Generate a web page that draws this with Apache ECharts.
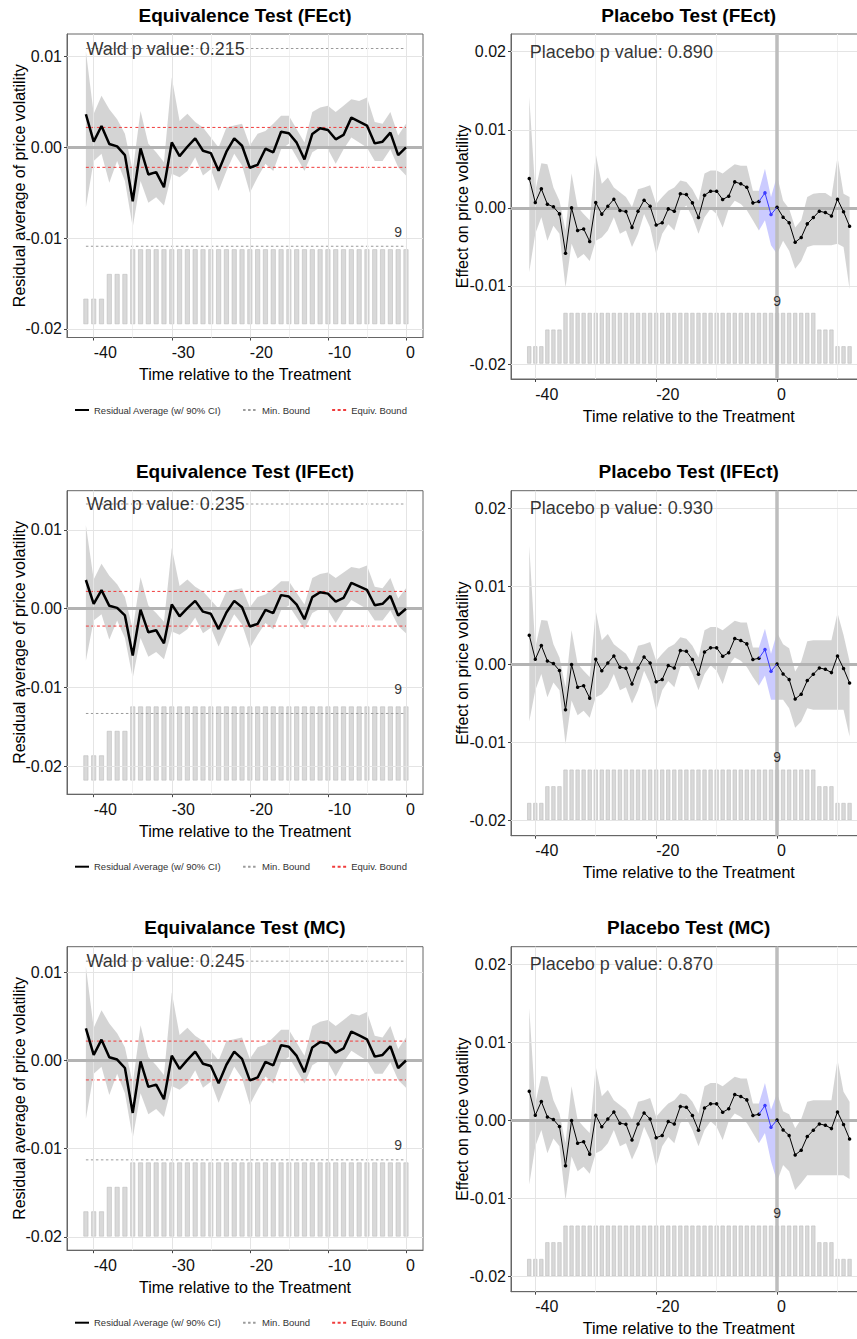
<!DOCTYPE html>
<html lang="en">
<head>
    <meta charset="UTF-8">
    <meta name="viewport" content="width=device-width, initial-scale=1.0">
    <title>Equivalence and Placebo Tests</title>
    <script src="https://cdn.jsdelivr.net/npm/echarts@6/dist/echarts.min.js"></script>
    <style>
        body { margin: 0; background: #fff; }
        #chart { width: 857px; height: 1339px; }
    </style>
</head>
<body>
    <div id="chart"></div>

    <script>
        // ---- values ----
        const models = ['FEct', 'IFEct', 'MC'];
        const eqTitles = ['Equivalence Test (FEct)', 'Equivalence Test (IFEct)', 'Equivalance Test (MC)'];
        const plTitles = ['Placebo Test (FEct)', 'Placebo Test (IFEct)', 'Placebo Test (MC)'];
        const waldP = ['0.215', '0.235', '0.245'];
        const placeboP = ['0.890', '0.930', '0.870'];
        const minBound = [0.0109, 0.0133, 0.01126];
        const equivBound = [0.0022, 0.0022, 0.0022];

        const eqTime = [-41, -40, -39, -38, -37, -36, -35, -34, -33, -32, -31, -30, -29, -28, -27, -26, -25, -24, -23, -22, -21,
            -20, -19, -18, -17, -16, -15, -14, -13, -12, -11, -10, -9, -8, -7, -6, -5, -4, -3, -2, -1, 0];
        const eqEffect = [0.00365, 0.00063, 0.00236, 0.00037, 0.00011, -0.00085, -0.00594, -0.00011, -0.00299, -0.00273, -0.00439,
            0.00055, -0.00096, 0.00007, 0.00100, -0.00037, -0.00063, -0.00258, -0.00048, 0.00100, 0.00018,
            -0.00225, -0.00192, -0.00015, -0.00055, 0.00173, 0.00155, 0.00052, -0.00133, 0.00148, 0.00210,
            0.00192, 0.00089, 0.00137, 0.00328, 0.00284, 0.00240, 0.00044, 0.00063, 0.00162, -0.00085, 0.00000];
        const eqUpper = [0.0106, 0.0037, 0.0057, 0.0042, 0.0031, 0.0015, -0.0026, 0.0040, 0.0004, -0.00055, -0.00165,
            0.0077, 0.0029, 0.0037, 0.0028, 0.0022, 0.0011, 0.0000, 0.0022, 0.0024, 0.0026,
            0.0002, 0.0015, 0.0018, 0.0026, 0.0035, 0.0035, 0.0020, 0.00055, 0.0039, 0.0044,
            0.0046, 0.0039, 0.0046, 0.0053, 0.0051, 0.0055, 0.0028, 0.0026, 0.0039, 0.0013, 0.0026];
        const eqLower = [-0.0066, -0.0015, -0.0007, -0.0039, -0.0015, -0.0037, -0.0088, -0.0037, -0.0061, -0.0055, -0.0064,
            -0.0029, -0.0033, -0.0026, -0.0011, -0.0031, -0.0024, -0.0048, -0.0026, -0.0007, -0.0020,
            -0.0050, -0.0033, -0.0018, -0.0026, -0.0002, 0.0004, -0.0011, -0.0026, -0.00055, 0.0000,
            -0.0002, -0.0018, -0.0002, 0.0011, 0.00055, 0.0000, -0.0015, -0.0015, -0.0002, -0.0022, -0.0031];
        const eqCounts = [3, 3, 3, 6, 6, 6, 9, 9, 9, 9, 9, 9, 9, 9, 9, 9, 9, 9, 9, 9, 9,
            9, 9, 9, 9, 9, 9, 9, 9, 9, 9, 9, 9, 9, 9, 9, 9, 9, 9, 9, 9, 9];

        const plTime = [-41, -40, -39, -38, -37, -36, -35, -34, -33, -32, -31, -30, -29, -28, -27, -26, -25, -24, -23, -22, -21,
            -20, -19, -18, -17, -16, -15, -14, -13, -12, -11, -10, -9, -8, -7, -6, -5, -4, -3, -2, -1,
            0, 1, 2, 3, 4, 5, 6, 7, 8, 9, 10, 11, 12];
        const plEffect = [0.00376, 0.00068, 0.00244, 0.00047, 0.00013, -0.00077, -0.0058, 0.0000, -0.0029, -0.0027, -0.0043,
            0.00068, -0.0008, 0.0002, 0.0011, -0.00034, -0.00047, -0.0025, -0.00043, 0.00098, 0.0002,
            -0.0022, -0.0019, -0.00013, -0.00043, 0.0018, 0.0017, 0.00064, -0.00124, 0.00162, 0.00214,
            0.00214, 0.00107, 0.0015, 0.00333, 0.00308, 0.00265, 0.00064, 0.00081, 0.00192, -0.00085,
            0.00008, -0.0012, -0.0019, -0.0044, -0.0038, -0.00205, -0.00124, -0.00043, -0.0006, -0.00103, 0.0011, -0.0005, -0.00235];

        const plUpperFEct = [0.0142, 0.0022, 0.0057, 0.0056, 0.0026, 0.0009, -0.0029, 0.0044, 0.0001, -0.0008, -0.0016,
            0.0069, 0.0031, 0.0039, 0.0026, 0.0020, 0.0014, 0.0001, 0.0024, 0.0026, 0.0029,
            0.0005, 0.0014, 0.0022, 0.0026, 0.0035, 0.0033, 0.0024, 0.0009, 0.0044, 0.0048,
            0.0048, 0.0044, 0.0050, 0.0056, 0.0054, 0.0054, 0.0022, 0.0022, 0.0050, 0.0014,
            0.0041, 0.0009, -0.0001, -0.0025, -0.0016, 0.0014, 0.0018, 0.0019, 0.0019, 0.0014, 0.0065, 0.0018, 0.0014];
        const plLowerFEct = [-0.0082, -0.0033, -0.0012, -0.0042, -0.0023, -0.0033, -0.0102, -0.0046, -0.0065, -0.0059, -0.0068,
            -0.0042, -0.0038, -0.0029, -0.0012, -0.0033, -0.0029, -0.0050, -0.0033, -0.0008, -0.0025,
            -0.0059, -0.0033, -0.0021, -0.0029, -0.0003, 0.0003, -0.0012, -0.0033, -0.0012, -0.0001,
            -0.0008, -0.0025, -0.0001, 0.0009, 0.0005, -0.0003, -0.0016, -0.0029, -0.0016, -0.0048,
            -0.0059, -0.0042, -0.0055, -0.0078, -0.0068, -0.0050, -0.0048, -0.0048, -0.0048, -0.0048, -0.0046, -0.0050, -0.0104];

        const plUpperIFEct = [0.0152, 0.0022, 0.0057, 0.0056, 0.0026, 0.0009, -0.0029, 0.0044, 0.0001, -0.0008, -0.0016,
            0.0069, 0.0031, 0.0039, 0.0026, 0.0020, 0.0014, 0.0001, 0.0024, 0.0026, 0.0029,
            0.0005, 0.0014, 0.0022, 0.0026, 0.0035, 0.0033, 0.0024, 0.0009, 0.0044, 0.0048,
            0.0048, 0.0044, 0.0050, 0.0056, 0.0054, 0.0054, 0.0022, 0.0022, 0.0046, 0.0014,
            0.0041, 0.0026, 0.0021, -0.0009, 0.0004, 0.0030, 0.0031, 0.0031, 0.0031, 0.0031, 0.0066, 0.0038, 0.0004];
        const plLowerIFEct = [-0.0073, -0.0033, -0.0012, -0.0042, -0.0023, -0.0033, -0.0102, -0.0046, -0.0065, -0.0059, -0.0068,
            -0.0042, -0.0038, -0.0029, -0.0012, -0.0033, -0.0029, -0.0050, -0.0033, -0.0008, -0.0025,
            -0.0059, -0.0033, -0.0021, -0.0029, -0.0003, 0.0003, -0.0012, -0.0033, -0.0012, -0.0001,
            -0.0008, -0.0025, -0.0001, 0.0009, 0.0005, -0.0003, -0.0016, -0.0027, -0.0014, -0.0045,
            -0.0045, -0.0045, -0.0056, -0.0081, -0.0073, -0.0056, -0.0058, -0.0058, -0.0058, -0.0058, -0.0058, -0.0058, -0.0092];

        const plUpperMC = [0.0144, 0.0022, 0.0057, 0.0056, 0.0026, 0.0009, -0.0029, 0.0044, 0.0001, -0.0008, -0.0016,
            0.0069, 0.0031, 0.0039, 0.0026, 0.0020, 0.0014, 0.0001, 0.0024, 0.0026, 0.0029,
            0.0005, 0.0014, 0.0022, 0.0026, 0.0035, 0.0033, 0.0024, 0.0009, 0.0044, 0.0048,
            0.0048, 0.0044, 0.0050, 0.0056, 0.0054, 0.0054, 0.0022, 0.0022, 0.0048, 0.0014,
            0.0035, 0.0012, 0.0008, -0.0010, 0.0002, 0.0024, 0.0026, 0.0026, 0.0026, 0.0026, 0.0078, 0.0037, 0.0024];
        const plLowerMC = [-0.0082, -0.0033, -0.0012, -0.0042, -0.0023, -0.0033, -0.0102, -0.0046, -0.0065, -0.0059, -0.0068,
            -0.0042, -0.0038, -0.0029, -0.0012, -0.0033, -0.0029, -0.0050, -0.0033, -0.0008, -0.0025,
            -0.0059, -0.0033, -0.0021, -0.0029, -0.0003, 0.0003, -0.0012, -0.0033, -0.0012, -0.0001,
            -0.0008, -0.0025, -0.0001, 0.0009, 0.0005, -0.0003, -0.0016, -0.0029, -0.0016, -0.0052,
            -0.0078, -0.0057, -0.0065, -0.0089, -0.0080, -0.0070, -0.0070, -0.0070, -0.0070, -0.0070, -0.0070, -0.0070, -0.0075];

        const plUpper = [plUpperFEct, plUpperIFEct, plUpperMC];
        const plLower = [plLowerFEct, plLowerIFEct, plLowerMC];

        const plCounts = [3, 3, 3, 6, 6, 6, 9, 9, 9, 9, 9, 9, 9, 9, 9, 9, 9, 9, 9, 9, 9,
            9, 9, 9, 9, 9, 9, 9, 9, 9, 9, 9, 9, 9, 9, 9, 9, 9, 9, 9, 9,
            9, 9, 9, 9, 9, 9, 9, 6, 6, 6, 3, 3, 3];
        const placeboWindow = [-3, 0];
        const placeboPoints = [-2, -1];

        const eqXTicks = [-40, -30, -20, -10, 0];
        const eqXMinor = [-35, -25, -15, -5];
        const eqYTicks = [0.01, 0, -0.01, -0.02];
        const eqYMinor = [0.005, -0.005, -0.015];
        const plXTicks = [-40, -20, 0];
        const plXMinor = [-30, -10, 10];
        const plYTicks = [0.02, 0.01, 0, -0.01, -0.02];
        const plYMinor = [0.015, 0.005, -0.005, -0.015];

        // ---- layout ----
        const FONT = '"Liberation Sans", Arial, Helvetica, sans-serif';
        const rowTops = [34, 490.7, 946.7];
        const eqYRange = [[-0.02096, 0.0125], [-0.02355, 0.01499], [-0.0215, 0.0129]];
        const eqCountRange = [[-1.66, 35.15], [-1.72, 35.5], [-1.72, 35.5]];
        const plYRange = [-0.02192, 0.02227];
        const plCountRange = [-2.83, 59.22];
        const eqXRange = [-43.42, 2.18];
        const plXRange = [-44.02, 14.8];

        const chart = echarts.init(document.getElementById('chart'), null, { renderer: 'svg' });

        const grids = [], xAxes = [], yAxes = [], series = [], titles = [], legends = [];

        const pairs = (xs, ys) => xs.map((x, i) => [x, ys[i]]);

        function gridLines(xi, yi, xMajor, xMinor, yMajor, yMinor, refs) {
            const major = { color: '#e4e4e4', width: 1, type: 'solid' };
            const minor = { color: '#f1f1f1', width: 1, type: 'solid' };
            const data = [];
            xMinor.forEach(v => data.push({ xAxis: v, lineStyle: minor }));
            yMinor.forEach(v => data.push({ yAxis: v, lineStyle: minor }));
            xMajor.forEach(v => data.push({ xAxis: v, lineStyle: major }));
            yMajor.forEach(v => data.push({ yAxis: v, lineStyle: major }));
            refs.forEach(d => data.push(d));
            return {
                type: 'line', xAxisIndex: xi, yAxisIndex: yi, data: [], silent: true, z: 1,
                markLine: { silent: true, symbol: ['none', 'none'], label: { show: false }, animation: false, data }
            };
        }

        function band(xi, yi, xs, lo, hi, from, to, fill) {
            return {
                type: 'custom', xAxisIndex: xi, yAxisIndex: yi, z: 2, silent: true,
                data: [[xs[from], lo[from]]],
                renderItem: (params, api) => {
                    const pts = [];
                    for (let i = from; i <= to; i++) pts.push(api.coord([xs[i], hi[i]]));
                    for (let i = to; i >= from; i--) pts.push(api.coord([xs[i], lo[i]]));
                    return { type: 'polygon', shape: { points: pts }, style: { fill: fill } };
                }
            };
        }

        function bars(xi, yi, xs, counts, frac) {
            return {
                type: 'custom', xAxisIndex: xi, yAxisIndex: yi, z: 3, silent: true,
                data: pairs(xs, counts),
                renderItem: (params, api) => {
                    const top = api.coord([api.value(0), api.value(1)]);
                    const base = api.coord([api.value(0), 0]);
                    const w = api.size([1, 0])[0] * frac;
                    return {
                        type: 'rect',
                        shape: { x: top[0] - w / 2, y: top[1], width: w, height: base[1] - top[1] },
                        style: { fill: '#d9d9d9', stroke: '#bdbdbd', lineWidth: 0.6 }
                    };
                }
            };
        }

        function hline(name, xi, yi, x0, x1, y, color, dash) {
            return {
                type: 'line', name: name, xAxisIndex: xi, yAxisIndex: yi, z: 4, silent: true,
                data: [[x0, y], [x1, y]], symbol: 'none',
                lineStyle: { color: color, width: 1, type: dash }, itemStyle: { color: color }
            };
        }

        function note(xi, yi, pt, text, size, position, distance) {
            return {
                type: 'scatter', xAxisIndex: xi, yAxisIndex: yi, z: 7, silent: true,
                symbolSize: 1, itemStyle: { color: 'transparent' },
                data: [pt],
                label: {
                    show: true, position: position, distance: distance, formatter: text,
                    fontSize: size, color: '#000', fontFamily: FONT
                }
            };
        }

        function xAxisCfg(g, range, ticks) {
            return {
                type: 'value', gridIndex: g, min: range[0], max: range[1],
                splitLine: { show: false },
                axisLine: { show: true, onZero: false, lineStyle: { color: '#666', width: 1 } },
                axisTick: { show: true, customValues: ticks, length: 3, lineStyle: { color: '#444' } },
                axisLabel: { customValues: ticks, align: 'left', margin: 7, fontSize: 16, color: '#111', fontFamily: FONT },
                name: 'Time relative to the Treatment', nameLocation: 'middle', nameGap: 29, nameMoveOverlap: false,
                nameTextStyle: { fontSize: 16, color: '#000', fontFamily: FONT }
            };
        }

        function yAxisCfg(g, range, ticks, name, gap) {
            return {
                type: 'value', gridIndex: g, min: range[0], max: range[1],
                splitLine: { show: false },
                axisLine: { show: true, onZero: false, lineStyle: { color: '#666', width: 1 } },
                axisTick: { show: true, customValues: ticks, length: 3, lineStyle: { color: '#444' } },
                axisLabel: {
                    customValues: ticks, margin: 5, fontSize: 16, color: '#111', fontFamily: FONT,
                    formatter: v => v.toFixed(2)
                },
                name: name, nameLocation: 'middle', nameGap: gap, nameMoveOverlap: false,
                nameTextStyle: { fontSize: 16, color: '#000', fontFamily: FONT }
            };
        }

        const zeroStyle = { color: '#b3b3b3', width: 3, type: 'solid' };
        const wIdx = [plTime.indexOf(placeboWindow[0]), plTime.indexOf(placeboWindow[1])];

        models.forEach((m, r) => {
            const top = rowTops[r];
            const ge = 2 * r, gp = 2 * r + 1;
            const ye = 4 * r, yec = 4 * r + 1, yp = 4 * r + 2, ypc = 4 * r + 3;
            const hi = plUpper[r], lo = plLower[r];

            grids.push({ left: 67, top: top, width: 356, height: 303.5, show: true, borderColor: '#666', borderWidth: 1, outerBoundsMode: 'none' });
            grids.push({ left: 511, top: top, width: 355.5, height: 345, show: true, borderColor: '#666', borderWidth: 1, outerBoundsMode: 'none' });

            xAxes.push(xAxisCfg(ge, eqXRange, eqXTicks));
            xAxes.push(xAxisCfg(gp, plXRange, plXTicks));

            yAxes.push(yAxisCfg(ge, eqYRange[r], eqYTicks, 'Residual average of price volatility', 40));
            yAxes.push({ type: 'value', gridIndex: ge, min: eqCountRange[r][0], max: eqCountRange[r][1], show: false });
            yAxes.push(yAxisCfg(gp, plYRange, plYTicks, 'Effect on price volatility', 41));
            yAxes.push({ type: 'value', gridIndex: gp, min: plCountRange[0], max: plCountRange[1], show: false });

            titles.push({
                text: eqTitles[r], left: 245, top: top - 28.5, textAlign: 'center', padding: 0,
                textStyle: { fontSize: 19, fontWeight: 'bold', color: '#000', fontFamily: FONT }
            });
            titles.push({
                text: plTitles[r], left: 688.7, top: top - 28.5, textAlign: 'center', padding: 0,
                textStyle: { fontSize: 19, fontWeight: 'bold', color: '#000', fontFamily: FONT }
            });

            legends.push({
                left: 74, top: top + 371, padding: 0, selectedMode: false,
                itemWidth: 14, itemHeight: 8, itemGap: 21,
                itemStyle: { opacity: 0 },
                textStyle: { fontSize: 9.5, color: '#333', fontFamily: FONT },
                data: ['Residual Average (w/ 90% CI)', 'Min. Bound', 'Equiv. Bound']
            });

            // equivalence panel
            series.push(gridLines(ge, ye, eqXTicks, eqXMinor, eqYTicks, eqYMinor, [{ yAxis: 0, lineStyle: zeroStyle }]));
            series.push(band(ge, ye, eqTime, eqLower, eqUpper, 0, eqTime.length - 1, 'rgba(128,128,128,0.34)'));
            series.push(bars(ge, yec, eqTime, eqCounts, 0.55));
            const x0 = eqTime[0], x1 = eqTime[eqTime.length - 1];
            series.push(hline('Min. Bound', ge, ye, x0, x1, minBound[r], '#9a9a9a', [2.5, 2.5]));
            series.push(hline('Min. Bound', ge, ye, x0, x1, -minBound[r], '#9a9a9a', [2.5, 2.5]));
            series.push(hline('Equiv. Bound', ge, ye, x0, x1, equivBound[r], '#f03c3c', [3, 2.5]));
            series.push(hline('Equiv. Bound', ge, ye, x0, x1, -equivBound[r], '#f03c3c', [3, 2.5]));
            series.push({
                type: 'line', name: 'Residual Average (w/ 90% CI)', xAxisIndex: ge, yAxisIndex: ye, z: 5, silent: true,
                data: pairs(eqTime, eqEffect), symbol: 'none',
                lineStyle: { color: '#000', width: 2.5 }, itemStyle: { color: '#000' }
            });
            series.push(note(ge, ye, [x0, minBound[r]], 'Wald p value: ' + waldP[r], 18, 'right', 0));
            series.push(note(ge, yec, [-1, Math.max(...eqCounts)], String(Math.max(...eqCounts)), 14, 'top', 10));

            // placebo panel
            series.push(gridLines(gp, yp, plXTicks, plXMinor, plYTicks, plYMinor, [
                { yAxis: 0, lineStyle: zeroStyle },
                { xAxis: 0, lineStyle: { color: '#bdbdbd', width: 3.5, type: 'solid' } }
            ]));
            series.push(band(gp, yp, plTime, lo, hi, 0, wIdx[0], 'rgba(128,128,128,0.34)'));
            series.push(band(gp, yp, plTime, lo, hi, wIdx[1], plTime.length - 1, 'rgba(128,128,128,0.34)'));
            series.push(band(gp, yp, plTime, lo, hi, wIdx[0], wIdx[1], 'rgba(70,70,255,0.28)'));
            series.push(bars(gp, ypc, plTime, plCounts, 0.58));
            series.push({
                type: 'line', xAxisIndex: gp, yAxisIndex: yp, z: 5, silent: true,
                data: plTime.map((t, i) => placeboPoints.includes(t) ? [t, '-'] : [t, plEffect[i]]),
                symbol: 'circle', symbolSize: 3.5, showSymbol: true,
                lineStyle: { color: '#000', width: 1 }, itemStyle: { color: '#000' }
            });
            series.push({
                type: 'line', xAxisIndex: gp, yAxisIndex: yp, z: 6, silent: true,
                data: plTime.slice(wIdx[0], wIdx[1] + 1).map((t, k) => {
                    const v = [t, plEffect[wIdx[0] + k]];
                    return placeboPoints.includes(t) ? v : { value: v, symbol: 'none' };
                }),
                symbol: 'circle', symbolSize: 3.5, showSymbol: true,
                lineStyle: { color: '#3c3cff', width: 1 }, itemStyle: { color: '#3c3cff' }
            });
            series.push(note(gp, yp, [plTime[0], 0.02], 'Placebo p value: ' + placeboP[r], 18, 'right', 0));
            series.push(note(gp, ypc, [0, Math.max(...plCounts)], String(Math.max(...plCounts)), 14, 'top', 5));
        });

        chart.setOption({
            animation: false,
            backgroundColor: '#fff',
            textStyle: { fontFamily: FONT },
            title: titles,
            legend: legends,
            grid: grids,
            xAxis: xAxes,
            yAxis: yAxes,
            series: series
        });
    </script>
</body>
</html>
